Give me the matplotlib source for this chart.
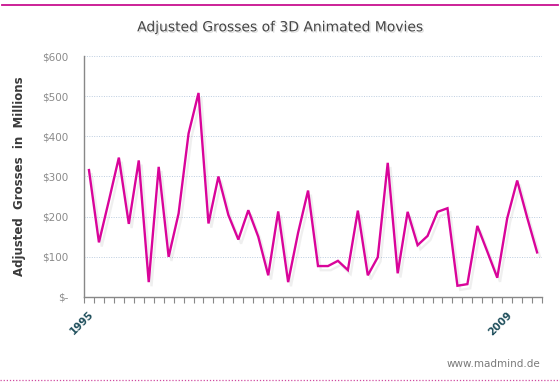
import matplotlib.pyplot as plt
import matplotlib.patheffects as pe
from matplotlib.lines import Line2D

# adjusted grosses (millions), one value per movie, 1995 -> 2009
grosses = [316, 136, 240, 347, 182, 340, 37, 324, 100, 208,
           407, 508, 183, 300, 204, 143, 216, 150, 54, 213,
           37, 160, 265, 77, 77, 90, 67, 215, 54, 99,
           334, 59, 212, 129, 152, 212, 221, 28, 32, 177,
           113, 48, 196, 290, 198, 111]
year_labels = {0: '1995', 42: '2009'}
y_ticks = [0, 100, 200, 300, 400, 500, 600]
y_labels = ['$-', '$100', '$200', '$300', '$400', '$500', '$600']

fig = plt.figure(figsize=(5.6, 3.9), dpi=100)
ax = fig.add_axes([0.150, 0.2385, 0.818, 0.6179])

n = len(grosses)
ax.plot(range(n), grosses, color='#d9049a', linewidth=1.7, solid_joinstyle='miter',
        path_effects=[pe.SimpleLineShadow(offset=(2, -3), shadow_color='#999999', alpha=0.15),
                      pe.Normal()])

ax.set_xlim(-0.5, n - 0.5)
ax.set_ylim(0, 600)
ax.set_yticks(y_ticks)
ax.set_yticklabels(y_labels)
ax.tick_params(axis='y', length=0, pad=11, labelsize=7.5, labelcolor='#8a8a8a')

# category boundary ticks + year labels at category centres
ax.set_xticks([i - 0.5 for i in range(n + 1)])
ax.set_xticklabels([])
ax.tick_params(axis='x', which='major', direction='out', length=4, color='#888888')
ax.set_xticks(list(year_labels.keys()), minor=True)
ax.set_xticklabels(list(year_labels.values()), minor=True, rotation=45,
                   ha='right', va='top', rotation_mode='anchor')
ax.tick_params(axis='x', which='minor', length=0, pad=9, labelsize=7.5,
               labelcolor='#1f4f5c')
for t in ax.get_xticklabels(minor=True):
    t.set_fontweight('bold')

ax.grid(axis='y', color='#bccde0', linestyle=(0, (1, 1.5)), linewidth=0.7)
ax.set_axisbelow(True)
for s in ['top', 'right']:
    ax.spines[s].set_visible(False)
for s in ['left', 'bottom']:
    ax.spines[s].set_color('#888888')
    ax.spines[s].set_linewidth(1.0)

ax.set_ylabel('Adjusted  Grosses  in  Millions', fontsize=8.5, fontweight='bold',
              color='#3a3a3a')
ax.yaxis.set_label_coords(-0.126, 0.5)

fig.text(0.5, 0.93, 'Adjusted Grosses of 3D Animated Movies', ha='center', va='center',
         fontsize=10, color='#454545',
         path_effects=[pe.withSimplePatchShadow(offset=(1, -1), alpha=0.15)])
fig.text(0.965, 0.066, 'www.madmind.de', ha='right', va='center', fontsize=7.5,
         color='#7a7a7a')

# decorative rules at top and bottom of the image
fig.add_artist(Line2D([0.004, 0.996], [0.987, 0.987], transform=fig.transFigure,
                      color='#c8108f', linewidth=1.3))
fig.add_artist(Line2D([0.0, 1.0], [0.026, 0.026], transform=fig.transFigure,
                      color='#d04aa0', linewidth=0.9, linestyle=(0, (1, 1.5))))

fig.savefig('out.png', dpi=100)
